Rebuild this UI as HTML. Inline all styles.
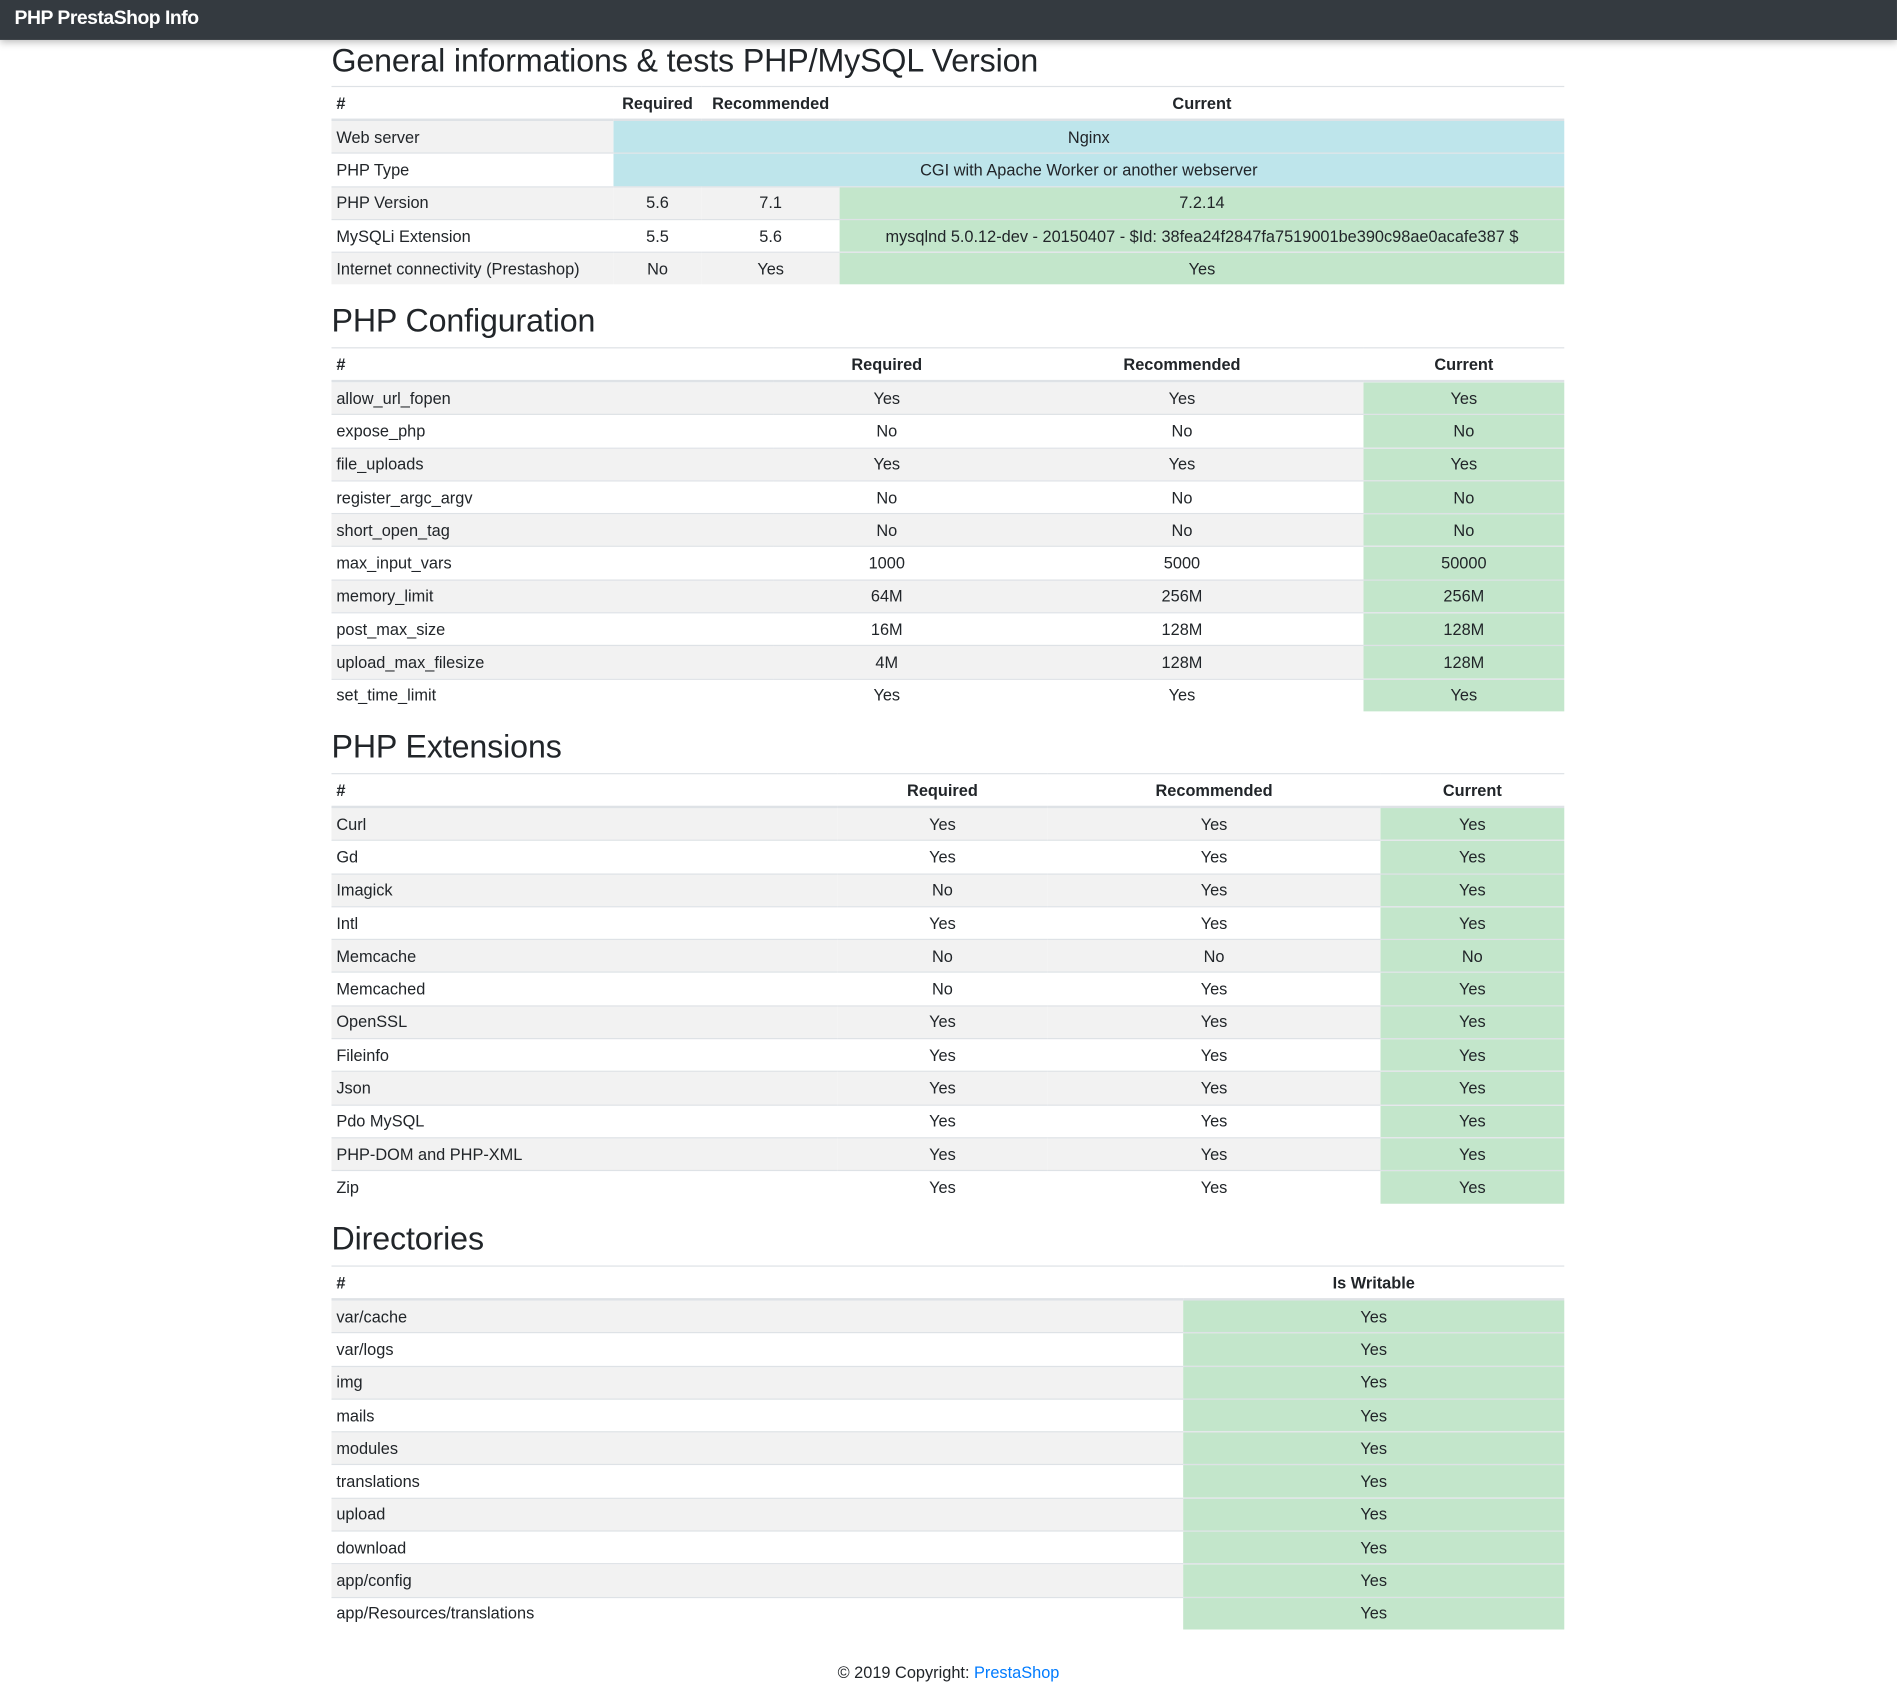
<!DOCTYPE html>
<html><head><meta charset="utf-8">
<style>
html,body{margin:0;padding:0;background:#fff;}
body{width:1897px;height:1701px;overflow:hidden;position:relative;font-family:"Liberation Sans",sans-serif;color:#212529;}
#wrap{position:absolute;left:0;top:0;width:1568px;height:1406px;transform:scale(1.2098);transform-origin:0 0;}
.nav{position:absolute;left:0;top:0;width:1568px;height:33px;background:#343a40;box-shadow:0 2px 6px rgba(0,0,0,.25);}
.nav span{position:absolute;left:12px;top:7px;color:#fff;font-weight:bold;font-size:16px;letter-spacing:-0.4px;}
h1,h2{position:absolute;left:274px;margin:0;font-weight:normal;font-size:26.6px;letter-spacing:-0.1px;color:#212529;line-height:30px;}
table{position:absolute;left:274px;width:1019px;border-collapse:collapse;table-layout:fixed;font-size:13.5px;}
th,td{padding:0 4px;height:26.3px;border-top:1px solid #dee2e6;text-align:center;white-space:nowrap;overflow:hidden;}
th{font-weight:bold;height:26px;border-bottom:2px solid #dee2e6;}
th:first-child,td:first-child{text-align:left;}
tbody tr:nth-child(odd) td{background:#f2f2f2;}
tbody tr td.info{background:#bee5eb;}
tbody tr td.ok{background:#c3e6cb;}
.foot{position:absolute;left:0;width:1568px;top:1375px;text-align:center;font-size:13.5px;}
.foot a{color:#007bff;text-decoration:none;}
</style></head><body>
<div id="wrap">
<div class="nav"><span>PHP PrestaShop Info</span></div>

<h1 style="top:35px">General informations &amp; tests PHP/MySQL Version</h1>
<table style="top:71px">
<colgroup><col style="width:233px"><col style="width:73px"><col style="width:114px"><col style="width:599px"></colgroup>
<thead><tr><th>#</th><th>Required</th><th>Recommended</th><th>Current</th></tr></thead>
<tbody>
<tr><td>Web server</td><td class="info" colspan="3">Nginx</td></tr>
<tr><td>PHP Type</td><td class="info" colspan="3">CGI with Apache Worker or another webserver</td></tr>
<tr><td>PHP Version</td><td>5.6</td><td>7.1</td><td class="ok">7.2.14</td></tr>
<tr><td>MySQLi Extension</td><td>5.5</td><td>5.6</td><td class="ok">mysqlnd 5.0.12-dev - 20150407 - $Id: 38fea24f2847fa7519001be390c98ae0acafe387 $</td></tr>
<tr><td>Internet connectivity (Prestashop)</td><td>No</td><td>Yes</td><td class="ok">Yes</td></tr>
</tbody></table>

<h2 style="top:250px">PHP Configuration</h2>
<table id="t2" style="top:287px">
<colgroup><col style="width:365px"><col style="width:188px"><col style="width:300px"><col style="width:166px"></colgroup>
<thead><tr><th>#</th><th>Required</th><th>Recommended</th><th>Current</th></tr></thead><tbody></tbody></table>

<h2 style="top:602px">PHP Extensions</h2>
<table id="t3" style="top:639px">
<colgroup><col style="width:418px"><col style="width:174px"><col style="width:275px"><col style="width:152px"></colgroup>
<thead><tr><th>#</th><th>Required</th><th>Recommended</th><th>Current</th></tr></thead><tbody></tbody></table>

<h2 style="top:1009px">Directories</h2>
<table id="t4" style="top:1046px">
<colgroup><col style="width:704px"><col style="width:315px"></colgroup>
<thead><tr><th>#</th><th>Is Writable</th></tr></thead><tbody></tbody></table>

<div class="foot">© 2019 Copyright: <a>PrestaShop</a></div>
</div>
<script>
const configRows=[["allow_url_fopen","Yes","Yes","Yes"],["expose_php","No","No","No"],["file_uploads","Yes","Yes","Yes"],["register_argc_argv","No","No","No"],["short_open_tag","No","No","No"],["max_input_vars","1000","5000","50000"],["memory_limit","64M","256M","256M"],["post_max_size","16M","128M","128M"],["upload_max_filesize","4M","128M","128M"],["set_time_limit","Yes","Yes","Yes"]];
const extRows=[["Curl","Yes","Yes","Yes"],["Gd","Yes","Yes","Yes"],["Imagick","No","Yes","Yes"],["Intl","Yes","Yes","Yes"],["Memcache","No","No","No"],["Memcached","No","Yes","Yes"],["OpenSSL","Yes","Yes","Yes"],["Fileinfo","Yes","Yes","Yes"],["Json","Yes","Yes","Yes"],["Pdo MySQL","Yes","Yes","Yes"],["PHP-DOM and PHP-XML","Yes","Yes","Yes"],["Zip","Yes","Yes","Yes"]];
const dirRows=[["var/cache","Yes"],["var/logs","Yes"],["img","Yes"],["mails","Yes"],["modules","Yes"],["translations","Yes"],["upload","Yes"],["download","Yes"],["app/config","Yes"],["app/Resources/translations","Yes"]];
function fill(id,rows){
  const tb=document.querySelector('#'+id+' tbody');
  rows.forEach(r=>{
    const tr=document.createElement('tr');
    
    
    r.forEach((v,i)=>{
      const td=document.createElement('td');
      td.textContent=v;
      if(i===r.length-1)td.className='ok';
      tr.appendChild(td);
    });
    tb.appendChild(tr);
  });
}
fill('t2',configRows);fill('t3',extRows);fill('t4',dirRows);
</script>
</body></html>
